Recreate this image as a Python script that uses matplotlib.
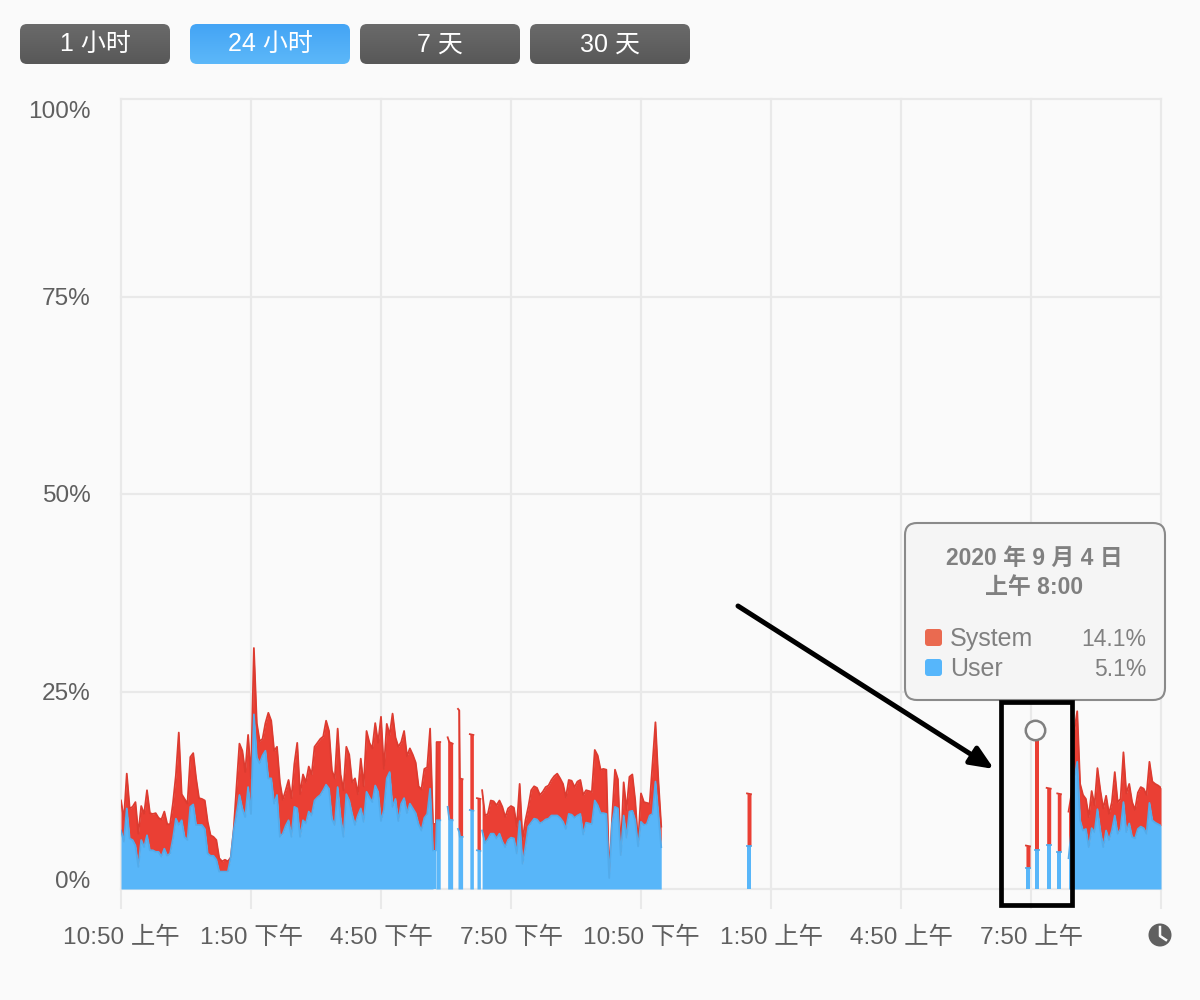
import numpy as np
import matplotlib.pyplot as plt
from matplotlib.colors import LinearSegmentedColormap
from matplotlib.patches import FancyBboxPatch, Rectangle, Circle
from matplotlib.transforms import ScaledTranslation

plt.rcParams["font.family"] = ["Liberation Sans", "Noto Sans CJK SC", "DejaVu Sans"]

# minutes after 10:50, 4 min samples inside the long runs
total_a = [
    11.2, 8.8, 14.6, 10.2, 10.4, 11.0, 7.0, 10.5, 9.5, 12.5,
    9.6, 9.5, 9.6, 9.0, 8.8, 9.8, 8.2, 8.2, 10.9, 14.4,
    19.8, 12.0, 11.4, 10.8, 16.7, 17.2, 14.0, 11.5, 11.4, 11.2,
    8.5, 6.8, 6.6, 6.2, 3.9, 3.5, 3.7, 3.5, 4.0, 7.5,
    13.0, 18.4, 17.5, 14.8, 19.5, 14.0, 30.5, 21.0, 18.7, 19.0,
    21.0, 22.3, 21.3, 17.5, 18.0, 13.5, 11.3, 12.5, 13.8, 11.5,
    15.8, 18.5, 12.0, 14.5, 13.5, 15.5, 14.5, 18.0, 18.5, 19.0,
    19.3, 21.3, 20.0, 15.0, 14.0, 20.3, 14.5, 12.5, 18.0, 17.0,
    13.5, 14.0, 12.0, 16.5, 13.0, 20.0, 18.5, 17.8, 21.0, 18.5,
    21.8, 15.2, 20.9, 19.5, 22.2, 19.2, 18.0, 18.6, 20.0, 16.8,
    17.8, 17.0, 16.0, 13.0, 12.6, 15.2, 15.4, 20.3, 8.3,
]
user_a = [
    7.4, 6.0, 10.2, 6.4, 6.2, 5.5, 2.8, 6.2, 5.3, 6.8,
    4.9, 4.9, 4.7, 4.7, 4.1, 5.1, 4.2, 4.5, 6.4, 8.9,
    8.1, 8.7, 6.6, 6.2, 10.4, 10.7, 8.1, 8.1, 8.1, 7.6,
    4.5, 4.2, 4.2, 3.7, 2.2, 2.2, 2.2, 2.2, 4.0, 7.4,
    9.5, 11.9, 10.2, 9.1, 12.9, 9.5, 22.1, 16.7, 15.9, 16.9,
    17.5, 14.0, 14.0, 10.8, 11.9, 6.6, 7.0, 8.0, 8.7, 6.6,
    10.4, 10.2, 6.6, 8.7, 8.3, 9.8, 9.3, 11.2, 11.6, 11.9,
    12.5, 13.2, 12.7, 8.9, 8.1, 12.9, 9.1, 6.6, 12.0, 11.2,
    9.5, 8.1, 9.3, 10.2, 8.5, 12.3, 11.6, 11.0, 13.1, 12.3,
    8.6, 10.0, 14.0, 14.8, 10.4, 11.4, 8.6, 10.8, 11.5, 9.6,
    10.8, 10.2, 9.6, 8.2, 7.4, 9.0, 9.5, 12.7, 4.9,
]
total_b = [
    12.5, 9.3, 9.5, 11.2, 11.1, 10.6, 11.2, 10.4, 9.1, 10.2,
    10.5, 10.3, 7.9, 13.3, 6.2, 8.7, 10.4, 12.5, 13.0, 12.8,
    11.9, 12.3, 12.9, 13.1, 13.8, 14.3, 14.6, 14.0, 13.3, 11.6,
    13.8, 13.7, 12.9, 13.6, 13.8, 11.9, 12.5, 12.4, 12.3, 17.6,
    16.9, 15.1, 15.2, 15.1, 1.6, 9.0, 15.1, 13.9, 4.8, 13.5,
    10.0, 14.2, 14.5, 11.2, 5.8, 12.1, 11.0, 10.9, 10.8, 15.9,
    21.1, 13.8, 7.9,
]
user_b = [
    7.4, 5.8, 6.3, 7.0, 7.0, 6.4, 7.0, 6.0, 5.3, 6.2,
    6.5, 6.4, 4.5, 8.6, 3.2, 5.3, 7.9, 8.4, 8.9, 8.8,
    8.3, 8.5, 8.8, 8.9, 9.3, 9.3, 9.3, 9.0, 8.5, 7.6,
    9.5, 9.4, 9.0, 9.3, 9.5, 6.9, 8.4, 8.3, 8.2, 11.2,
    10.6, 9.6, 9.6, 9.5, 1.4, 8.3, 10.4, 10.2, 4.3, 9.3,
    6.5, 9.8, 9.9, 8.7, 5.4, 8.5, 8.1, 8.2, 9.3, 9.5,
    13.6, 9.5, 5.3,
]
total_c = [
    9.8, 12.0, 20.0, 22.5, 13.3, 11.9, 11.4, 9.1, 12.4, 10.6,
    15.3, 12.5, 10.2, 11.8, 9.5, 11.0, 14.8, 11.0, 11.4, 17.3,
    12.1, 13.3, 11.0, 10.0, 12.2, 12.9, 12.7, 11.9, 16.1, 13.6,
    13.3, 13.1, 12.8,
]
user_c = [
    3.9, 7.5, 14.0, 16.1, 8.7, 7.4, 7.6, 5.3, 7.7, 7.2,
    10.1, 7.4, 5.3, 7.4, 6.2, 7.4, 9.3, 7.0, 7.6, 11.0,
    7.2, 8.3, 6.6, 6.4, 7.6, 7.9, 7.7, 7.0, 10.9, 8.7,
    8.4, 8.2, 8.0,
]
# short isolated runs, each list holds one stretch of samples
short_times = [
    [436, 437, 442],
    [452.3, 454.5, 459.2],
    [466.6, 468.4, 469.2, 473],
    [483, 487.9],
    [492.9, 497.6],
    [866.8, 872.3],
    [1253, 1258.6],
    [1265.5, 1270.6],
    [1281.7, 1287.3],
    [1296.4, 1301.5],
]
short_total = [
    [8.3, 18.6, 18.6],
    [19.2, 18.6, 18.4],
    [22.8, 22.6, 14.0, 13.9],
    [19.6, 19.5],
    [11.5, 11.4],
    [12.1, 12.0],
    [5.5, 5.4],
    [19.1, 19.1],
    [12.8, 12.7],
    [12.1, 12.0],
]
short_user = [
    [4.9, 8.7, 8.7],
    [10.4, 8.8, 8.7],
    [7.6, 7.2, 6.6, 6.6],
    [10.0, 9.9],
    [4.9, 4.8],
    [5.5, 5.5],
    [2.6, 2.6],
    [5.0, 5.0],
    [5.6, 5.6],
    [4.7, 4.7],
]
x_ticks = [0, 180, 360, 540, 720, 900, 1080, 1260, 1440]
x_labels = ["10:50 上午", "1:50 下午", "4:50 下午", "7:50 下午", "10:50 下午",
            "1:50 上午", "4:50 上午", "7:50 上午", ""]
y_ticks = [0, 25, 50, 75, 100]
y_labels = ["0%", "25%", "50%", "75%", "100%"]
hover_time = 1265
hover_value = 20.1
buttons = ["1 小时", "24 小时", "7 天", "30 天"]

RED = "#ea3f34"
RED_EDGE = "#dd3b30"
BLUE = "#58b6f9"
BLUE_EDGE = "#52abeb"
GRID = "#e9e9e9"
BG = "#fafafa"


def draw_run(ax, t, total, user):
    t = np.asarray(t, dtype=float)
    total = np.asarray(total, dtype=float)
    user = np.asarray(user, dtype=float)
    ax.fill_between(t, user, total, color=RED, lw=0, zorder=3)
    ax.fill_between(t, 0, user, color=BLUE, lw=0, zorder=4)
    ax.plot(t, total, color=RED_EDGE, lw=1.3, zorder=3.5, solid_joinstyle="round")
    ax.plot(t, user, color=BLUE_EDGE, lw=1.3, zorder=4.5, solid_joinstyle="round")


fig = plt.figure(figsize=(12, 10), dpi=100, facecolor=BG)
ax = fig.add_axes([121 / 1200, 1 - 889 / 1000, 1040 / 1200, 790 / 1000])
ax.set_facecolor(BG)
ax.set_xlim(0, 1440)
ax.set_ylim(0, 100)
for s in ax.spines.values():
    s.set_visible(False)

ax.set_xticks(x_ticks)
ax.set_xticklabels(x_labels, fontsize=17.6, color="#5f5f5f")
ax.set_yticks(y_ticks)
ax.set_yticklabels(y_labels, fontsize=17.6, color="#5f5f5f")
ax.tick_params(axis="x", length=14.5, width=1.5, color=GRID, pad=12.5)
ax.tick_params(axis="y", length=0, pad=22)
ax.grid(True, color=GRID, lw=1.6)
ax.set_axisbelow(True)
for line in ax.get_xgridlines() + ax.get_ygridlines():
    line.set_clip_on(False)
labels = ax.get_yticklabels()
labels[0].set_verticalalignment("bottom")
labels[0].set_transform(labels[0].get_transform() + ScaledTranslation(0, -4 / 100, fig.dpi_scale_trans))
labels[-1].set_verticalalignment("top")
labels[-1].set_transform(labels[-1].get_transform() + ScaledTranslation(0, -2 / 100, fig.dpi_scale_trans))

draw_run(ax, 4 * np.arange(len(total_a)), total_a, user_a)
draw_run(ax, 500 + 4 * np.arange(len(total_b)), total_b, user_b)
draw_run(ax, 1312 + 4 * np.arange(len(total_c)), total_c, user_c)
for t, tot, usr in zip(short_times, short_total, short_user):
    draw_run(ax, t, tot, usr)
# blue joins the first long run to its last short stretch
ax.fill_between([432, 436], 0, [user_a[-1], short_user[0][0]], color=BLUE, lw=0, zorder=4)
ax.fill_between([432, 436], user_a[-1], total_a[-1], color=RED, lw=0, zorder=3)

ax.plot([hover_time], [hover_value], "o", ms=14, mfc=BG, mec="#808080", mew=1.8,
        zorder=6, clip_on=False)

# overlay in pixel coordinates for buttons, tooltip and hand drawn marks
ui = fig.add_axes([0, 0, 1, 1], facecolor="none")
ui.set_xlim(0, 1200)
ui.set_ylim(1000, 0)
ui.axis("off")

btn_boxes = [(20, 150), (190, 160), (360, 160), (530, 160)]
for i, (name, (bx, bw)) in enumerate(zip(buttons, btn_boxes)):
    top, bottom = ("#44a4f5", "#5cb8f9") if i == 1 else ("#6a6a6a", "#585858")
    patch = FancyBboxPatch((bx + 7, 24 + 7), bw - 14, 40 - 14,
                           boxstyle="round,pad=7,rounding_size=7", fc="none", ec="none")
    ui.add_patch(patch)
    grad = np.linspace(0, 1, 40).reshape(-1, 1)
    cmap = LinearSegmentedColormap.from_list("b", [top, bottom])
    im = ui.imshow(grad, extent=(bx, bx + bw, 64, 24), aspect="auto", cmap=cmap, zorder=2)
    im.set_clip_path(patch)
    ui.text(bx + bw / 2, 45, name, color="white", fontsize=18, ha="center",
            va="center", zorder=3)
ui.set_xlim(0, 1200)
ui.set_ylim(1000, 0)

ui.add_patch(FancyBboxPatch((905 + 12, 523 + 12), 260 - 24, 177 - 24,
                            boxstyle="round,pad=12,rounding_size=12",
                            fc="#f5f5f5", ec="#8a8a8a", lw=1.5, zorder=5))
ui.text(1034, 558, "2020 年 9 月 4 日", color="#808080", fontsize=16.5, weight="bold",
        ha="center", va="center", zorder=6)
ui.text(1034, 587, "上午 8:00", color="#808080", fontsize=16.5, weight="bold",
        ha="center", va="center", zorder=6)
ui.add_patch(FancyBboxPatch((927, 631), 13, 13, boxstyle="round,pad=2,rounding_size=3",
                            fc="#ea6a50", ec="none", zorder=6))
ui.add_patch(FancyBboxPatch((927, 661), 13, 13, boxstyle="round,pad=2,rounding_size=3",
                            fc="#56b6fb", ec="none", zorder=6))
ui.text(950, 639, "System", color="#808080", fontsize=18, va="center", zorder=6)
ui.text(950, 669, "User", color="#808080", fontsize=18, va="center", zorder=6)
ui.text(1146, 639, "14.1%", color="#808080", fontsize=16.5, ha="right", va="center", zorder=6)
ui.text(1146, 669, "5.1%", color="#808080", fontsize=16.5, ha="right", va="center", zorder=6)

ui.add_patch(Rectangle((1001, 702), 71, 203, fc="none", ec="black", lw=3.4, zorder=7))
ui.annotate("", xy=(994, 769), xytext=(738, 606),
            arrowprops=dict(arrowstyle="-|>,head_length=1.4,head_width=0.6", color="black",
                            lw=3.6, shrinkA=0, shrinkB=0), zorder=7)

ui.add_patch(Circle((1160, 935), 11.5, fc="#606060", ec="none", zorder=6))
ui.plot([1160, 1160, 1166], [927, 936, 940], color=BG, lw=1.8, zorder=7)

fig.savefig("out.png", dpi=100, facecolor=BG)
